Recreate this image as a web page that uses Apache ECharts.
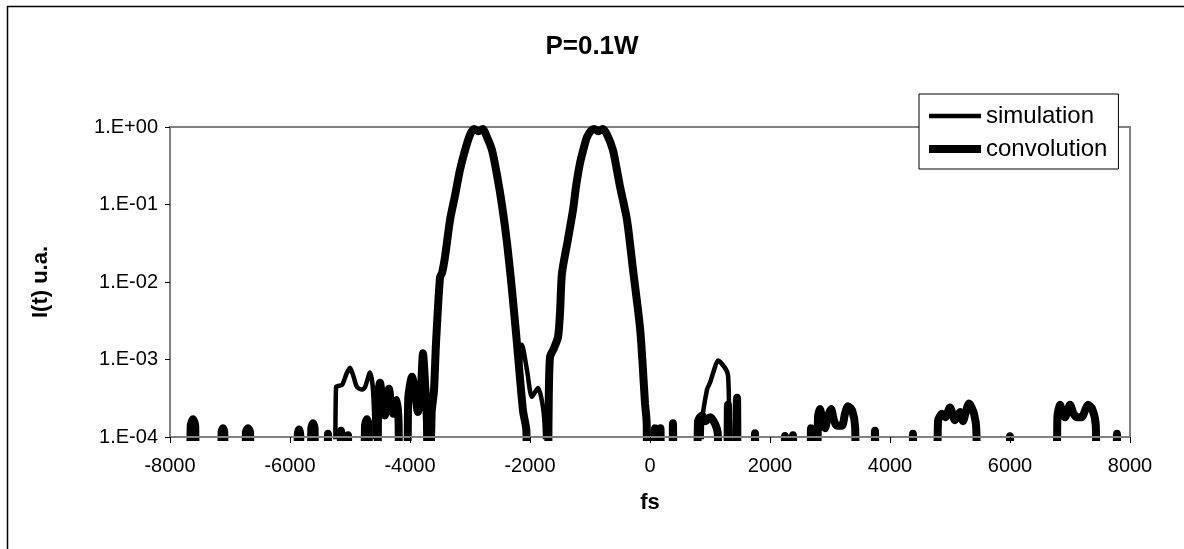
<!DOCTYPE html>
<html>
<head>
<meta charset="utf-8">
<script src="https://cdn.jsdelivr.net/npm/echarts@6/dist/echarts.min.js"></script>
<style>
html,body{margin:0;padding:0;background:#fff;}
#chart{width:1184px;height:549px;}
</style>
</head>
<body>
<div id="chart"></div>
<script>
// ---- data (fs, intensity); 1e-6 marks values below the axis floor ----
const chartTitle = 'P=0.1W';
const seriesNames = ['simulation', 'convolution'];
const xTicks = [-8000, -6000, -4000, -2000, 0, 2000, 4000, 6000, 8000];
const yTicks = [1e-4, 1e-3, 1e-2, 1e-1, 1];
const yTickLabels = ['1.E-04', '1.E-03', '1.E-02', '1.E-01', '1.E+00'];

const simT = [-8000, -5260, -5233, -5133, -5060, -5000, -4940, -4883, -4800, -4750, -4667, -4617, -4590, -4570,
  -3690, -3640, -3600, -3567, -3500, -3467, -3417, -3333, -3250, -3167, -3083, -3000, -2930, -2880, -2860, -2840, -2790, -2717, -2633, -2550, -2467, -2383, -2300, -2217,
  -2167, -2133, -2050, -1967, -1867, -1783, -1750, -1735,
  -1720, -1690, -1667, -1600, -1533, -1500, -1467, -1375, -1283, -1233, -1167, -1100, -1050, -983, -930, -880, -860, -840, -790, -717, -617, -500, -383, -283, -167, -120, -83, -55, -30,
  840, 867, 950, 1000, 1060, 1133, 1250, 1300, 1317, 1340, 1355, 8000];
const simV = [1e-6, 1e-6, 4.4e-4, 4.7e-4, 6.5e-4, 7.8e-4, 6e-4, 4.4e-4, 4.1e-4, 4.4e-4, 6.8e-4, 4.1e-4, 1e-4, 1e-6,
  1e-6, 2e-4, 4e-4, 1.6e-3, 1.15e-2, 1.3e-2, 2.1e-2, 6.3e-2, 0.13, 0.28, 0.5, 0.79, 0.94, 0.9, 0.88, 0.9, 0.94, 0.74, 0.5, 0.24, 0.098, 0.032, 7.9e-3, 1.6e-3,
  9e-4, 1.55e-3, 7.3e-4, 3.3e-4, 4.3e-4, 2.4e-4, 1e-4, 1e-6,
  1e-6, 2e-4, 1.07e-3, 1.4e-3, 1.95e-3, 4e-3, 1.3e-2, 3.3e-2, 8.5e-2, 0.17, 0.34, 0.55, 0.74, 0.9, 0.94, 0.9, 0.88, 0.9, 0.94, 0.8, 0.5, 0.17, 0.063, 0.0144, 2.6e-3, 8e-4, 2.7e-4, 1.5e-4, 1e-6,
  1e-6, 1.5e-4, 4.1e-4, 5e-4, 7e-4, 9.7e-4, 7.8e-4, 6.3e-4, 2.7e-4, 1e-4, 1e-6, 1e-6];

const convT = [-8000, -7690, -7655, -7617, -7580, -7545, -7160, -7140, -7117, -7095, -7075, -6760, -6735, -6700, -6665, -6640,
  -5890, -5870, -5850, -5830, -5810, -5670, -5645, -5617, -5590, -5565, -5390, -5367, -5345, -5180, -5150, -5120, -5050, -5033, -5010,
  -4780, -4750, -4717, -4690, -4665,
  -4560, -4530, -4500, -4460, -4417, -4380, -4350, -4320, -4283, -4250, -4217, -4190, -4160,
  -4060, -4030, -3967, -3920, -3867, -3820, -3783, -3750, -3717, -3700,
  -3690, -3640, -3600, -3567, -3500, -3467, -3417, -3333, -3250, -3167, -3083, -3000, -2930, -2880, -2860, -2840, -2790, -2717, -2633, -2550, -2467, -2383, -2300, -2217, -2117, -2060, -2030,
  -1720, -1690, -1667, -1600, -1533, -1500, -1467, -1375, -1283, -1233, -1167, -1100, -1050, -983, -930, -880, -860, -840, -790, -717, -617, -500, -383, -283, -167, -120, -83, -55, -30,
  60, 83, 110, 150, 175, 200, 350, 383, 415,
  770, 800, 867, 930, 1000, 1080, 1130, 1160, 1260, 1300, 1340, 1410, 1450, 1490,
  1720, 1750, 1780, 2230, 2250, 2270, 2360, 2383, 2405, 2660, 2683, 2710,
  2760, 2800, 2833, 2880, 2917, 2960, 3017, 3070, 3117, 3200, 3250, 3300, 3370, 3420, 3460,
  3720, 3750, 3780, 4360, 4383, 4405,
  4760, 4800, 4867, 4920, 5000, 5083, 5167, 5217, 5270, 5317, 5400, 5440, 5470,
  5985, 6000, 6015,
  6760, 6790, 6833, 6880, 6917, 6960, 7000, 7060, 7117, 7200, 7250, 7300, 7370, 7430, 7470,
  7760, 7783, 7805, 8000];
const convV = [1e-6, 1e-6, 1.4e-4, 1.7e-4, 1.4e-4, 1e-6, 1e-6, 1.15e-4, 1.3e-4, 1.15e-4, 1e-6, 1e-6, 1.15e-4, 1.3e-4, 1.15e-4, 1e-6,
  1e-6, 1.1e-4, 1.25e-4, 1.1e-4, 1e-6, 1e-6, 1.3e-4, 1.5e-4, 1.3e-4, 1e-6, 1e-6, 1.1e-4, 1e-6, 1e-6, 1.2e-4, 1e-6, 1e-6, 1.05e-4, 1e-6,
  1e-6, 1.4e-4, 1.7e-4, 1.4e-4, 1e-6,
  1e-6, 3.5e-4, 5e-4, 3e-4, 1.9e-4, 3.2e-4, 4.2e-4, 2.8e-4, 2e-4, 2.5e-4, 3e-4, 1.5e-4, 1e-6,
  1e-6, 3e-4, 6e-4, 4e-4, 2.1e-4, 4e-4, 1.2e-3, 5e-4, 1.5e-4, 1e-6,
  1e-6, 2e-4, 4e-4, 1.6e-3, 1.15e-2, 1.3e-2, 2.1e-2, 6.3e-2, 0.13, 0.28, 0.5, 0.79, 0.94, 0.9, 0.88, 0.9, 0.94, 0.74, 0.5, 0.24, 0.098, 0.032, 7.9e-3, 1.6e-3, 2.2e-4, 1.2e-4, 1e-6,
  1e-6, 2e-4, 1.07e-3, 1.4e-3, 1.95e-3, 4e-3, 1.3e-2, 3.3e-2, 8.5e-2, 0.17, 0.34, 0.55, 0.74, 0.9, 0.94, 0.9, 0.88, 0.9, 0.94, 0.8, 0.5, 0.17, 0.063, 0.0144, 2.6e-3, 8e-4, 2.7e-4, 1.5e-4, 1e-6,
  1e-6, 1.3e-4, 1e-6, 1e-6, 1.3e-4, 1e-6, 1e-6, 1.5e-4, 1e-6,
  1e-6, 1.6e-4, 1.9e-4, 1.6e-4, 1.8e-4, 1.5e-4, 1.1e-4, 1e-6, 1e-6, 2.6e-4, 1e-6, 1e-6, 3.2e-4, 1e-6,
  1e-6, 1.12e-4, 1e-6, 1e-6, 1.03e-4, 1e-6, 1e-6, 1.05e-4, 1e-6, 1e-6, 1.3e-4, 1e-6,
  1e-6, 1.8e-4, 2.3e-4, 1.5e-4, 1.3e-4, 1.8e-4, 2.3e-4, 1.6e-4, 1.4e-4, 1.4e-4, 2e-4, 2.5e-4, 2.2e-4, 1.3e-4, 1e-6,
  1e-6, 1.2e-4, 1e-6, 1e-6, 1.1e-4, 1e-6,
  1e-6, 1.6e-4, 2e-4, 1.8e-4, 2.4e-4, 1.65e-4, 2.1e-4, 1.6e-4, 2.2e-4, 2.7e-4, 2e-4, 1.2e-4, 1e-6,
  1e-6, 1.02e-4, 1e-6,
  1e-6, 1.8e-4, 2.6e-4, 2e-4, 1.8e-4, 2.2e-4, 2.6e-4, 2e-4, 1.8e-4, 1.8e-4, 2.2e-4, 2.6e-4, 2.3e-4, 1.4e-4, 1e-6,
  1e-6, 1.1e-4, 1e-6, 1e-6];

const FONT = 'Liberation Sans';
const SIM_W = 4.5, CONV_W = 8;
const pairs = (t, v) => t.map((x, i) => [x, v[i]]);

const chart = echarts.init(document.getElementById('chart'), null, { renderer: 'canvas' });
chart.setOption({
  animation: false,
  backgroundColor: '#fff',
  title: {
    text: chartTitle, left: 'center', top: 29,
    textStyle: { fontFamily: FONT, fontSize: 26, fontWeight: 'bold', color: '#000' }
  },
  legend: {
    orient: 'vertical', left: 919, top: 94,
    backgroundColor: '#fff', borderColor: '#000', borderWidth: 1,
    padding: [10, 11, 8, 6], itemGap: 9, itemWidth: 52, itemHeight: 24,
    itemStyle: { opacity: 0 },
    textStyle: { fontFamily: FONT, fontSize: 24, color: '#000' },
    data: [
      { name: seriesNames[0], lineStyle: { width: SIM_W, color: '#000' } },
      { name: seriesNames[1], lineStyle: { width: CONV_W, color: '#000' } }
    ]
  },
  graphic: [
    {
      type: 'rect', left: 5, top: 4, z: -10, silent: true,
      shape: { width: 1300, height: 700 },
      style: { fill: 'none', stroke: '#000', lineWidth: 1.5 }
    },
    {
      // masks the part of the thick lines that the clip box lets through below the axis
      type: 'rect', left: 160, top: 438, z: 3, silent: true,
      shape: { width: 980, height: 5 },
      style: { fill: '#fff' }
    }
  ],
  grid: {
    left: 170, right: 54, top: 127, bottom: 112,
    show: true, borderColor: '#808080', borderWidth: 2, backgroundColor: '#fff'
  },
  xAxis: {
    type: 'value', min: xTicks[0], max: xTicks[xTicks.length - 1], interval: 2000, z: 5,
    name: 'fs', nameLocation: 'middle', nameGap: 55,
    nameTextStyle: { fontFamily: FONT, fontSize: 22, fontWeight: 'bold', color: '#000' },
    axisLine: { onZero: false, lineStyle: { color: '#808080', width: 2 } },
    axisTick: { show: true, length: 6, lineStyle: { color: '#000', width: 1 } },
    axisLabel: {
      fontFamily: FONT, fontSize: 20, color: '#000', margin: 19,
      formatter: v => { const i = xTicks.indexOf(v); return i >= 0 ? String(xTicks[i]) : ''; }
    },
    splitLine: { show: false }
  },
  yAxis: {
    type: 'log', logBase: 10, min: yTicks[0], max: yTicks[yTicks.length - 1], z: 5,
    name: 'I(t) u.a.', nameLocation: 'middle', nameGap: 118, nameRotate: 90,
    nameTextStyle: { fontFamily: FONT, fontSize: 22, fontWeight: 'bold', color: '#000' },
    axisLine: { show: true, onZero: false, lineStyle: { color: '#808080', width: 2 } },
    axisTick: { show: true, length: 5, lineStyle: { color: '#000', width: 1 } },
    axisLabel: {
      fontFamily: FONT, fontSize: 20, color: '#000', margin: 12,
      formatter: v => {
        const i = yTicks.findIndex(t => Math.abs(Math.log10(t) - Math.log10(v)) < 1e-6);
        return i >= 0 ? yTickLabels[i] : '';
      }
    },
    splitLine: { show: false }
  },
  series: [
    {
      name: seriesNames[0], type: 'line', data: pairs(simT, simV),
      symbol: 'none', smooth: 0.25, clip: true,
      lineStyle: { color: '#000', width: SIM_W }, itemStyle: { color: '#000' }
    },
    {
      name: seriesNames[1], type: 'line', data: pairs(convT, convV),
      symbol: 'none', smooth: 0.25, clip: true,
      lineStyle: { color: '#000', width: CONV_W }, itemStyle: { color: '#000' }
    }
  ]
});
</script>
</body>
</html>
